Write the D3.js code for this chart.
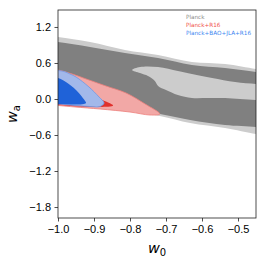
<!DOCTYPE html>
<html>
<head>
<meta charset="utf-8">
<script src="https://cdn.jsdelivr.net/npm/d3@7"></script>
<style>
body { margin:0; background:white; }
svg { display:block; font-family:"DejaVu Sans", sans-serif; }
.tick text { font-size:11px; fill:black; }
.legend text { font-size:5.7px; }
.axisLabel { font-size:14.5px; font-style:italic; }
</style>
</head>
<body>
<svg></svg>
<script>

//contours as [w0, wa] points
var planck95 = [[-1.05,1.083],[-1.0,1.033],[-0.911,0.95],[-0.814,0.817],[-0.722,0.733],[-0.628,0.617],[-0.536,0.583],[-0.45,0.5],[-0.411,0.467],
                [-0.411,-0.617],[-0.45,-0.583],[-0.536,-0.483],[-0.633,-0.40],[-0.717,-0.283],[-0.828,-0.183],[-1.0,-0.05],[-1.05,-0.017]];
var planck68 = [[-1.05,0.983],[-1.0,0.95],[-0.911,0.867],[-0.814,0.767],[-0.722,0.683],[-0.628,0.567],[-0.536,0.517],[-0.45,0.45],[-0.411,0.417],
                [-0.411,-0.5],[-0.45,-0.467],[-0.536,-0.433],[-0.633,-0.35],[-0.717,-0.25],[-0.828,-0.15],[-1.0,-0.017],[-1.05,0.017]];
//hole inside the 68% band
var planckHole = [[-0.794,0.483],[-0.772,0.533],[-0.722,0.533],[-0.667,0.467],[-0.628,0.417],[-0.572,0.35],[-0.508,0.283],[-0.45,0.25],[-0.411,0.233],
                  [-0.411,-0.033],[-0.45,-0.017],[-0.494,0.0],[-0.536,0.017],[-0.583,0.017],[-0.628,0.017],[-0.667,0.067],[-0.7,0.15],[-0.722,0.217],
                  [-0.731,0.30],[-0.75,0.383],[-0.772,0.433]];
var r16_95 = [[-1.036,0.517],[-1.0,0.483],[-0.969,0.433],[-0.914,0.317],[-0.867,0.217],[-0.811,0.1],[-0.758,-0.083],[-0.717,-0.25],
              [-0.744,-0.267],[-0.8,-0.217],[-0.883,-0.167],[-0.953,-0.133],[-1.0,-0.108],[-1.036,-0.092]];
var r16_68 = [[-1.036,0.383],[-1.0,0.333],[-0.953,0.217],[-0.911,0.083],[-0.883,0.0],[-0.847,-0.108],
              [-0.883,-0.133],[-0.939,-0.125],[-1.0,-0.1],[-1.036,-0.092]];
var bao95 = [[-1.036,0.483],[-1.0,0.475],[-0.983,0.458],[-0.967,0.417],[-0.95,0.367],[-0.914,0.2],[-0.886,0.033],[-0.872,-0.067],
             [-0.883,-0.125],[-0.911,-0.125],[-0.95,-0.108],[-1.0,-0.083],[-1.036,-0.067]];
var bao68 = [[-1.036,0.367],[-1.0,0.35],[-0.978,0.283],[-0.95,0.15],[-0.931,0.017],[-0.922,-0.067],
             [-0.928,-0.083],[-0.95,-0.092],[-1.0,-0.083],[-1.036,-0.075]];

var legendNames = ["Planck","Planck+R16","Planck+BAO+JLA+R16"];
var legendColors = ["#8c8c8c","#f0504a","#3d86f0"];

var xTicks = [-1.0,-0.9,-0.8,-0.7,-0.6,-0.5];
var yTicks = [-1.8,-1.2,-0.6,0.0,0.6,1.2];

var screen = {width:266,height:264}
var margins = {left:58,right:10,top:10,bottom:46}
var graphDim = {
    width:screen.width-margins.left-margins.right,
    height:screen.height-margins.top-margins.bottom
}

var svg = d3.select("svg")
    .attr("width",screen.width)
    .attr("height",screen.height)

var xScale = d3.scaleLinear()
    .domain([-1.0,-0.45])
    .range([0,graphDim.width])

var yScale = d3.scaleLinear()
    .domain([-1.983,1.483])
    .range([graphDim.height,0])

//clip the contours to the plot box
svg.append("clipPath")
    .attr("id","box")
    .append("rect")
    .attr("width",graphDim.width)
    .attr("height",graphDim.height)

var target = svg.append("g")
    .attr("transform","translate("+margins.left+","+margins.top+")")

var plot = target.append("g")
    .attr("clip-path","url(#box)")

var line = d3.line()
    .x(function(p){return xScale(p[0]);})
    .y(function(p){return yScale(p[1]);})
    .curve(d3.curveCatmullRomClosed.alpha(0.5))

var layers = [
    {pts:planck95, fill:"#cccccc", stroke:"none"},
    {pts:planck68, fill:"#808080", stroke:"none"},
    {pts:planckHole, fill:"#cccccc", stroke:"none"},
    {pts:r16_95, fill:"#f2a8a6", stroke:"#ee7f7b"},
    {pts:r16_68, fill:"#e0302c", stroke:"none"},
    {pts:bao95, fill:"#a2b8ea", stroke:"#6d99e6"},
    {pts:bao68, fill:"#1f62d8", stroke:"none"}
]

plot.selectAll("path")
    .data(layers)
    .enter()
    .append("path")
    .attr("d",function(l){return line(l.pts);})
    .attr("fill",function(l){return l.fill;})
    .attr("stroke",function(l){return l.stroke;})
    .attr("stroke-width",0.8)

//axes
var fmt = d3.format(".1f")
target.append("g")
    .attr("transform","translate(0,"+graphDim.height+")")
    .call(d3.axisBottom(xScale).tickValues(xTicks).tickFormat(fmt).tickSize(3.5).tickPadding(3.5))

target.append("g")
    .call(d3.axisLeft(yScale).tickValues(yTicks).tickFormat(fmt).tickSize(3.5).tickPadding(3.5))

target.selectAll(".domain").remove()
target.selectAll(".tick line").attr("stroke","#222").attr("stroke-width",0.8)

//frame
target.append("rect")
    .attr("width",graphDim.width)
    .attr("height",graphDim.height)
    .attr("fill","none")
    .attr("stroke","#222")
    .attr("stroke-width",0.8)

//legend, text only
var legend = target.append("g")
    .classed("legend",true)
legend.selectAll("text")
    .data(legendNames)
    .enter()
    .append("text")
    .text(function(d){return d;})
    .attr("x",128)
    .attr("y",function(d,i){return 9+i*8;})
    .attr("fill",function(d,i){return legendColors[i];})

//axis labels
var xLab = svg.append("text")
    .classed("axisLabel",true)
    .attr("text-anchor","middle")
    .attr("x",margins.left+graphDim.width/2)
    .attr("y",253)
xLab.append("tspan").text("w")
xLab.append("tspan").text("0").attr("dy",3).style("font-style","normal").style("font-size","10px")

var yLab = svg.append("text")
    .classed("axisLabel",true)
    .attr("text-anchor","middle")
    .attr("transform","translate(17,"+(margins.top+graphDim.height/2)+") rotate(-90)")
yLab.append("tspan").text("w")
yLab.append("tspan").text("a").attr("dy",3).style("font-style","normal").style("font-size","10px")

</script>
</body>
</html>
